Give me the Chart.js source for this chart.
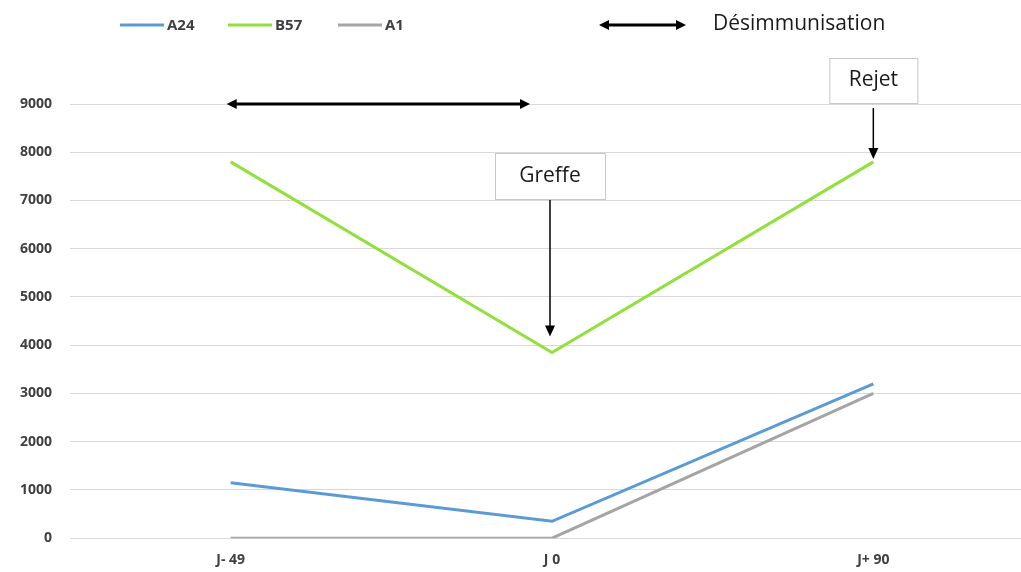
<!DOCTYPE html>
<html>
<head>
<meta charset="utf-8">
<script src="https://cdn.jsdelivr.net/npm/chart.js@4/dist/chart.umd.min.js"></script>
<style>
  html, body { margin: 0; padding: 0; background: #fff; overflow: hidden; }
  #wrap { width: 1034px; height: 572px; }
</style>
</head>
<body>
<div id="wrap"><canvas id="antiChart"></canvas></div>
<script>
const categories = ['J- 49', 'J 0', 'J+ 90'];
const a24Values = [1150, 350, 3200];
const b57Values = [7800, 3850, 7800];
const a1Values = [0, 0, 3000];
const yTicks = [0, 1000, 2000, 3000, 4000, 5000, 6000, 7000, 8000, 9000];

const seriesColors = { A24: '#5b9bd5', B57: '#92e03c', A1: '#a5a5a5' };
const labelFont = '"Open Sans", "Liberation Sans", sans-serif';

function drawArrowHead(ctx, x, y, dir) {
    // dir: 'left', 'right', 'down'
    ctx.beginPath();
    if (dir === 'left') {
        ctx.moveTo(x, y); ctx.lineTo(x + 10, y - 5); ctx.lineTo(x + 10, y + 5);
    } else if (dir === 'right') {
        ctx.moveTo(x, y); ctx.lineTo(x - 10, y - 5); ctx.lineTo(x - 10, y + 5);
    } else {
        ctx.moveTo(x, y); ctx.lineTo(x - 5, y - 11); ctx.lineTo(x + 5, y - 11);
    }
    ctx.closePath();
    ctx.fill();
}

function drawDoubleArrow(ctx, x1, x2, y) {
    ctx.save();
    ctx.strokeStyle = '#000';
    ctx.fillStyle = '#000';
    ctx.lineWidth = 3;
    ctx.beginPath();
    ctx.moveTo(x1 + 6, y);
    ctx.lineTo(x2 - 6, y);
    ctx.stroke();
    drawArrowHead(ctx, x1, y, 'left');
    drawArrowHead(ctx, x2, y, 'right');
    ctx.restore();
}

function drawLabelBox(ctx, text, cx, top, w, h) {
    ctx.save();
    ctx.fillStyle = '#fff';
    ctx.fillRect(cx - w / 2, top, w, h);
    ctx.strokeStyle = '#c8c8c8';
    ctx.lineWidth = 1;
    ctx.strokeRect(cx - w / 2 + 0.5, top + 0.5, w, h);
    ctx.fillStyle = '#1a1a1a';
    ctx.font = '21px ' + labelFont;
    ctx.textAlign = 'center';
    ctx.textBaseline = 'middle';
    ctx.fillText(text, cx, top + h / 2);
    ctx.restore();
}

function drawDownArrow(ctx, x, y1, y2) {
    ctx.save();
    ctx.strokeStyle = '#000';
    ctx.fillStyle = '#000';
    ctx.lineWidth = 1.5;
    ctx.beginPath();
    ctx.moveTo(x, y1);
    ctx.lineTo(x, y2 - 8);
    ctx.stroke();
    drawArrowHead(ctx, x, y2, 'down');
    ctx.restore();
}

const annotationPlugin = {
    id: 'annotations',
    afterDatasetsDraw(chart) {
        const ctx = chart.ctx;
        const x = chart.scales.x;
        const y = chart.scales.y;

        // legend
        const legend = [['A24', 120], ['B57', 228], ['A1', 338]];
        ctx.save();
        ctx.font = 'bold 15px ' + labelFont;
        ctx.textBaseline = 'middle';
        legend.forEach(([name, lx]) => {
            ctx.strokeStyle = seriesColors[name];
            ctx.lineWidth = 3;
            ctx.beginPath();
            ctx.moveTo(lx, 25);
            ctx.lineTo(lx + 44, 25);
            ctx.stroke();
            ctx.fillStyle = '#404040';
            ctx.fillText(name, lx + 47, 26);
        });
        ctx.restore();
        drawDoubleArrow(ctx, 599, 686, 25);
        ctx.save();
        ctx.fillStyle = '#1a1a1a';
        ctx.font = '21px ' + labelFont;
        ctx.textBaseline = 'middle';
        ctx.fillText('Désimmunisation', 713, 24);
        ctx.restore();

        // désimmunisation period
        drawDoubleArrow(ctx, x.getPixelForValue(0) - 4, x.getPixelForValue(1) - 22, y.getPixelForValue(9000));

        // Greffe
        const gx = x.getPixelForValue(1) - 2;
        drawLabelBox(ctx, 'Greffe', gx, 153, 110, 46);
        drawDownArrow(ctx, gx, 200, y.getPixelForValue(b57Values[1]) - 16);

        // Rejet
        const rx = x.getPixelForValue(2);
        drawLabelBox(ctx, 'Rejet', rx, 58, 88, 45);
        drawDownArrow(ctx, rx, 108, y.getPixelForValue(b57Values[2]) - 3);
    }
};

function makeDataset(label, data, color) {
    return {
        label: label,
        data: data,
        borderColor: color,
        backgroundColor: color,
        borderWidth: 3,
        pointRadius: 0,
        tension: 0,
        fill: false
    };
}

new Chart(document.getElementById('antiChart').getContext('2d'), {
    type: 'line',
    data: {
        labels: categories,
        datasets: [
            makeDataset('A1', a1Values, seriesColors.A1),
            makeDataset('A24', a24Values, seriesColors.A24),
            makeDataset('B57', b57Values, seriesColors.B57)
        ]
    },
    options: {
        responsive: true,
        maintainAspectRatio: false,
        animation: false,
        layout: { padding: { top: 104, bottom: -1, left: 2, right: 0 } },
        scales: {
            x: {
                offset: true,
                grid: { display: false },
                border: { display: false },
                ticks: {
                    color: '#404040',
                    font: { family: labelFont, size: 14, weight: 'bold' },
                    padding: 5
                }
            },
            y: {
                min: 0,
                max: 9000,
                afterBuildTicks(scale) {
                    scale.ticks = yTicks.map(v => ({ value: v }));
                },
                grid: { color: '#d9d9d9', drawTicks: false },
                border: { display: false },
                ticks: {
                    color: '#404040',
                    font: { family: labelFont, size: 14, weight: 'bold' },
                    padding: 18,
                    callback: value => String(value)
                }
            }
        },
        plugins: {
            legend: { display: false },
            tooltip: { enabled: false }
        }
    },
    plugins: [annotationPlugin]
});
</script>
</body>
</html>
